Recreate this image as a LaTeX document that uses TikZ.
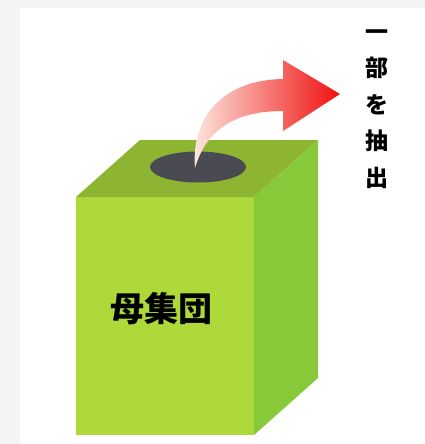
\documentclass[tikz,border=0pt]{standalone}
\usepackage{fontspec}
\newfontfamily\cjk{Noto Sans CJK JP}
\usetikzlibrary{calc}
\definecolor{boxfront}{RGB}{173,217,58}
\definecolor{boxtop}{RGB}{141,181,50}
\definecolor{boxside}{RGB}{135,201,56}
\definecolor{holegray}{RGB}{74,74,82}
\definecolor{arrowpale}{RGB}{252,234,226}
\definecolor{arrowmid}{RGB}{246,140,120}
\definecolor{arrowred}{RGB}{240,16,16}
\definecolor{framegray}{RGB}{244,244,244}

\begin{document}
\begin{tikzpicture}[x=1pt, y=-1pt]
		%%%%% START %%%%%
		\useasboundingbox (0, 0) rectangle (425, 444);
		
		\fill[framegray] (0, 0) rectangle (425, 444);
		\fill[white] (20, 8) rectangle (425, 444);
		
		% box
		\fill[boxfront] (76, 197) rectangle (254, 435);
		\fill[boxtop] (76, 197) -- (140, 140) -- (318, 140) -- (254, 197) -- cycle;
		\fill[boxside] (254, 197) -- (318, 140) -- (318, 378) -- (254, 435) -- cycle;
		
		\fill[holegray] (198, 167) ellipse (48 and 15.5);
		
		% arrow out of the hole
		\shade[left color=arrowpale, middle color=arrowmid, right color=arrowred]
			(195, 168) .. controls (191, 118) and (222, 80) .. (283, 79)
			-- (283, 60) -- (340, 94) -- (283, 131) -- (283, 111)
			.. controls (238, 111) and (207, 127) .. (195, 168) -- cycle;
		
		\node[font=\cjk\bfseries\fontsize{34}{34}\selectfont, inner sep=0] (mother) at (161, 309) {母集団};
		\node[font=\cjk\bfseries\fontsize{23}{36.5}\selectfont, align=center, inner sep=0] (part) at (377, 109) {一\\部\\を\\抽\\出};
		
		%%%%% END %%%%%
	\end{tikzpicture}
\end{document}
